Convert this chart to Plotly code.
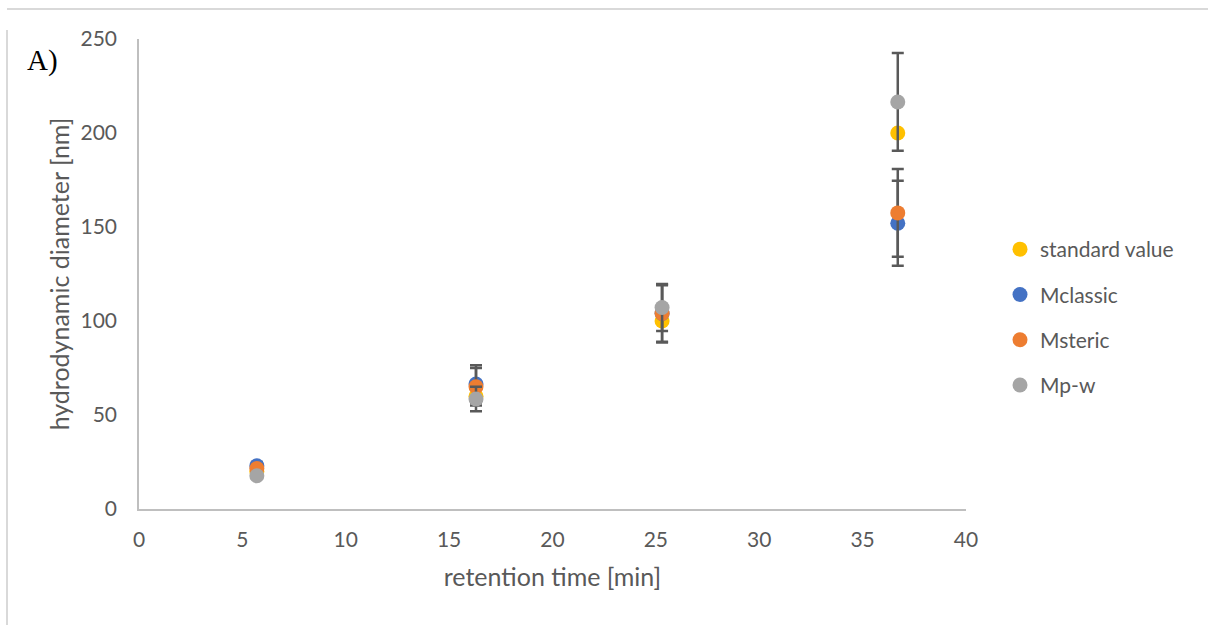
import plotly.graph_objects as go

# retention times [min]
retention = [5.7, 16.3, 25.3, 36.7]

# hydrodynamic diameters [nm]
standard_value = [20, 60, 100, 200]
mclassic = [23, 66.5, 104, 152]
msteric = [21.5, 65, 104, 157.5]
mpw = [17.7, 58.5, 107.2, 216.5]

# error bars (std dev)
mclassic_err = [2, 10, 15, 22.6]
msteric_err = [2, 10, 15.5, 23.3]
mpw_err = [1.5, 6.5, 12.5, 26]

series = [
    ("standard value", standard_value, None, "#FFC000"),
    ("Mclassic", mclassic, mclassic_err, "#4472C4"),
    ("Msteric", msteric, msteric_err, "#ED7D31"),
    ("Mp-w", mpw, mpw_err, "#A5A5A5"),
]

FONT = "Lato, 'Open Sans', sans-serif"
GREY = "#595959"

# figure size and plot-area margins (pixels)
W, H = 1208, 625
l, r, t, b = 139, 242, 39, 116
pw, ph = W - l - r, H - t - b

def px(xp):
    return (xp - l) / pw

def py(yp):
    return (H - b - yp) / ph

fig = go.Figure()
for name, vals, err, col in series:
    err_cfg = dict(visible=False)
    if err is not None:
        err_cfg = dict(type="data", array=err, visible=True,
                       color=GREY, thickness=2.5, width=6)
    fig.add_trace(go.Scatter(
        x=retention, y=vals, name=name, mode="markers",
        marker=dict(color=col, size=15),
        error_y=err_cfg,
        legendgroup=name,
    ))

fig.update_layout(
    width=W, height=H,
    margin=dict(l=l, r=r, t=t, b=b),
    paper_bgcolor="white", plot_bgcolor="white",
    font=dict(family=FONT, size=21, color=GREY),
    showlegend=True,
    legend=dict(x=px(1000), xanchor="left", y=py(229), yanchor="top",
                tracegroupgap=15, font=dict(size=21, color=GREY),
                bgcolor="rgba(0,0,0,0)"),
    xaxis=dict(range=[0, 40], dtick=5, showgrid=False, zeroline=False,
               showline=True, linecolor="#BFBFBF", linewidth=1.5,
               ticks="outside", ticklen=11, tickcolor="rgba(0,0,0,0)",
               title=dict(text="retention time [min]", standoff=19)),
    yaxis=dict(range=[0, 250], dtick=50, showgrid=False, zeroline=False,
               showline=True, linecolor="#BFBFBF", linewidth=1.5,
               ticks="outside", ticklen=16, tickcolor="rgba(0,0,0,0)",
               title=dict(text="hydrodynamic diameter [nm]", standoff=4)),
    annotations=[dict(text="A)", x=px(42), y=py(61), xref="paper", yref="paper",
                      xanchor="center", yanchor="middle", showarrow=False,
                      font=dict(family="'Liberation Serif', serif", size=29,
                                color="black"))],
    shapes=[
        dict(type="line", xref="paper", yref="paper", x0=px(7), x1=px(1208),
             y0=py(9), y1=py(9), line=dict(color="#D9D9D9", width=2)),
        dict(type="line", xref="paper", yref="paper", x0=px(7), x1=px(7),
             y0=py(30), y1=py(625), line=dict(color="#D9D9D9", width=2)),
    ],
)

fig.write_html("out.html", config={"displayModeBar": False},
               post_script="document.body.style.margin='0';")
